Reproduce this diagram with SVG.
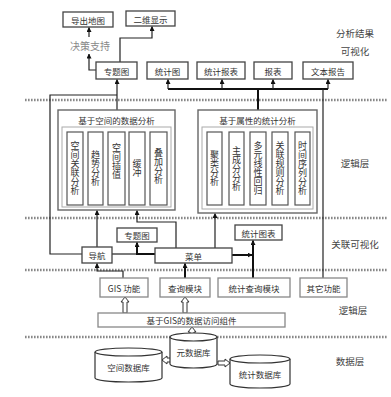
<svg xmlns="http://www.w3.org/2000/svg" width="391" height="397" viewBox="0 0 391 397">
<defs>
<style>
text{font-family:"Noto Sans CJK SC","Liberation Sans",sans-serif;fill:#333;}
.lbl{font-size:8.5px;text-anchor:middle;dominant-baseline:central;}
.side{font-size:9.5px;text-anchor:middle;dominant-baseline:central;fill:#444;}
.vt{font-size:9px;text-anchor:middle;writing-mode:vertical-rl;}
.box{fill:#fff;stroke:#444;stroke-width:1.3;}
.box2{fill:#fff;stroke:#888;stroke-width:1.3;}
.frame{fill:#fff;stroke:#666;stroke-width:1.4;}
.inner{fill:none;stroke:#aaa;stroke-width:1;}
.col{fill:#fff;stroke:#555;stroke-width:1.2;}
.dash{stroke:#888;stroke-width:2.5;stroke-dasharray:1.6 1.4;fill:none;}
.ln{fill:none;stroke:#222;stroke-width:1.2;}
.thk{fill:none;stroke:#111;stroke-width:2;}
.hol{fill:#fff;stroke:#333;stroke-width:1;}
.db{fill:#fff;stroke:#333;stroke-width:1.2;}
</style>
<marker id="ah" viewBox="0 0 10 10" refX="9" refY="5" markerWidth="5" markerHeight="5" orient="auto" markerUnits="userSpaceOnUse">
<path d="M0,0 L10,5 L0,10 z" fill="#111"/>
</marker>
</defs>

<!-- layer separators -->
<g id="separators">
<line class="dash" x1="25" y1="100" x2="388" y2="100"/>
<line class="dash" x1="25" y1="218" x2="388" y2="218"/>
<line class="dash" x1="25" y1="270" x2="388" y2="270"/>
<line class="dash" x1="25" y1="337" x2="388" y2="337"/>
</g>

<!-- side labels -->
<g id="layer-labels">
<text class="side" x="355" y="33">分析结果</text>
<text class="side" x="355" y="51">可视化</text>
<text class="side" x="355" y="163">逻辑层</text>
<text class="side" x="355" y="244">关联可视化</text>
<text class="side" x="353" y="310">逻辑层</text>
<text class="side" x="350" y="361">数据层</text>
</g>

<!-- connectors -->
<g id="connectors">
<path class="ln" d="M96,70 H89 V54" marker-end="url(#ah)"/>
<path class="ln" d="M89,37 V27.5" marker-end="url(#ah)"/>
<path class="ln" d="M120,62 V38 H152 V26.5" marker-end="url(#ah)"/>
<path class="ln" d="M82,254 H50 V95 H117"/>
<path class="ln" d="M117,110 V79.5" marker-end="url(#ah)"/>
<path class="thk" d="M168,89 H328"/>
<path class="ln" d="M168,89 V79.5" marker-end="url(#ah)"/>
<path class="ln" d="M222,89 V79.5" marker-end="url(#ah)"/>
<path class="ln" d="M273,89 V79.5" marker-end="url(#ah)"/>
<path class="ln" d="M328,89 V79.5" marker-end="url(#ah)"/>
<path class="thk" d="M258,110 V89"/>
<path class="ln" d="M323,89 V278"/>
<path class="ln" d="M97,247 V210.5" marker-end="url(#ah)"/>
<path class="ln" d="M176,248 V222 H137 V210.5" marker-end="url(#ah)"/>
<path class="ln" d="M215,248 V213.5" marker-end="url(#ah)"/>
<path class="ln" d="M112,254 H137"/>
<path class="thk" d="M155,254 H137 V242.5" marker-end="url(#ah)"/>
<path class="thk" d="M232,255 H252" marker-end="url(#ah)"/>
<path class="thk" d="M253,278 V240.5" marker-end="url(#ah)"/>
<path class="thk" d="M185,278 V263.5" marker-end="url(#ah)"/>
<path class="ln" d="M123,278 V271 H97 V263.5" marker-end="url(#ah)"/>
<!-- hollow arrows -->
<polygon class="hol" points="125,297 129,302 127,302 127,313 123,313 123,302 121,302"/>
<polygon class="hol" points="185,297 189,302 187,302 187,313 183,313 183,302 181,302"/>
<polygon class="hol" points="192,327 196,332 194,332 194,337 190,337 190,332 188,332"/>
<polygon class="hol" points="162,360 167,356 167,358 171,358 171,362 167,362 167,364"/>
<polygon class="hol" points="230,363 225,359 225,361 218,361 218,365 225,365 225,367"/>
</g>

<!-- top nodes -->
<g id="n-export"><rect class="box" x="63" y="12" width="50" height="15"/><text class="lbl" x="88" y="19.5">导出地图</text></g>
<g id="n-2d"><rect class="box" x="126" y="11" width="49" height="15"/><text class="lbl" x="150.5" y="18.5">二维显示</text></g>
<g id="n-decision"><rect x="68" y="38" width="44" height="15" fill="#fff"/><text x="90" y="45.5" style="font-size:10px;text-anchor:middle;dominant-baseline:central;fill:#888">决策支持</text></g>

<g id="n-thematic"><rect class="box" x="96" y="62" width="41" height="17"/><text class="lbl" x="116.5" y="70.5">专题图</text></g>
<g id="n-chart"><rect class="box" x="147" y="62" width="41" height="17"/><text class="lbl" x="167.5" y="70.5">统计图</text></g>
<g id="n-report"><rect class="box" x="197" y="62" width="48" height="17"/><text class="lbl" x="221" y="70.5">统计报表</text></g>
<g id="n-table"><rect class="box" x="254" y="62" width="38" height="17"/><text class="lbl" x="273" y="70.5">报表</text></g>
<g id="n-text"><rect class="box" x="303" y="62" width="50" height="17"/><text class="lbl" x="328" y="70.5">文本报告</text></g>

<!-- spatial analysis -->
<g id="n-spatial">
<rect class="frame" x="58" y="110" width="117" height="100"/>
<rect class="inner" x="62" y="127" width="109" height="80"/>
<text class="lbl" x="116.5" y="120">基于空间的数据分析</text>
<rect class="col" x="67" y="132" width="16" height="73"/>
<rect class="col" x="88" y="132" width="15" height="73"/>
<rect class="col" x="108" y="132" width="17" height="73"/>
<rect class="col" x="129" y="132" width="16" height="73"/>
<rect class="col" x="150" y="132" width="17" height="73"/>
<text class="vt" x="75" y="168.5">空间关联分析</text>
<text class="vt" x="95.5" y="168.5">趋势分析</text>
<text class="vt" x="116.5" y="161">空间插值</text>
<text class="vt" x="137" y="168.5">缓冲</text>
<text class="vt" x="158.5" y="166">叠加分析</text>
</g>

<!-- attribute statistics -->
<g id="n-stat">
<rect class="frame" x="198" y="110" width="119" height="103"/>
<rect class="inner" x="202" y="127" width="111" height="82"/>
<text class="lbl" x="257.5" y="120">基于属性的统计分析</text>
<rect class="col" x="207" y="132" width="15" height="73"/>
<rect class="col" x="229" y="132" width="15" height="73"/>
<rect class="col" x="250" y="132" width="16" height="73"/>
<rect class="col" x="272" y="132" width="16" height="73"/>
<rect class="col" x="295" y="132" width="15" height="73"/>
<text class="vt" x="214.5" y="168.5">聚类分析</text>
<text class="vt" x="236.5" y="168.5">主成分分析</text>
<text class="vt" x="258" y="168.5">多元线性回归</text>
<text class="vt" x="280" y="168.5">关联规则分析</text>
<text class="vt" x="302.5" y="168.5">时间序列分析</text>
</g>

<!-- linkage -->
<g id="n-nav"><rect class="box" x="82" y="247" width="30" height="16"/><text class="lbl" x="97" y="255">导航</text></g>
<g id="n-menu"><rect class="box" x="155" y="248" width="77" height="15"/><text class="lbl" x="193.5" y="255.5">菜单</text></g>
<g id="n-thematic2"><rect class="box" x="117" y="228" width="40" height="14"/><text class="lbl" x="137" y="235">专题图</text></g>
<g id="n-chart2"><rect class="box" x="235" y="225" width="47" height="15"/><text class="lbl" x="258.5" y="232.5">统计图表</text></g>

<!-- function row -->
<g id="n-gis"><rect class="box2" x="100" y="278" width="48" height="19"/><text class="lbl" x="124" y="287.5">GIS 功能</text></g>
<g id="n-query"><rect class="box2" x="160" y="278" width="50" height="19"/><text class="lbl" x="185" y="287.5">查询模块</text></g>
<g id="n-statquery"><rect class="box2" x="218" y="278" width="72" height="19"/><text class="lbl" x="254" y="287.5">统计查询模块</text></g>
<g id="n-other"><rect class="box2" x="300" y="278" width="47" height="19"/><text class="lbl" x="323.5" y="287.5">其它功能</text></g>

<g id="n-access"><rect class="box2" x="98" y="313" width="187" height="14"/><text class="lbl" x="191.5" y="320">基于GIS的数据访问组件</text></g>

<!-- databases -->
<g id="n-meta">
<path class="db" d="M170,337 V364 A23.5,4 0 0 0 217,364 V337"/>
<ellipse class="db" cx="193.5" cy="337" rx="23.5" ry="4"/>
<text class="lbl" x="193.5" y="352">元数据库</text>
</g>
<g id="n-spatialdb">
<path class="db" d="M95,352 V378 A33.5,4 0 0 0 162,378 V352"/>
<ellipse class="db" cx="128.5" cy="352" rx="33.5" ry="4"/>
<text class="lbl" x="128.5" y="367">空间数据库</text>
</g>
<g id="n-statdb">
<path class="db" d="M230,359 V384 A30,4 0 0 0 290,384 V359"/>
<ellipse class="db" cx="260" cy="359" rx="30" ry="4"/>
<text class="lbl" x="260" y="374">统计数据库</text>
</g>
</svg>
